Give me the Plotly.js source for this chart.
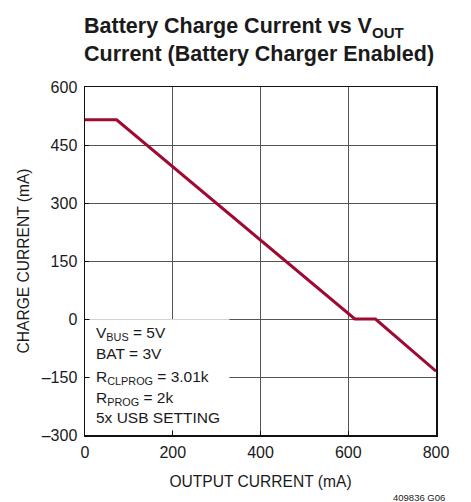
<!DOCTYPE html>
<html>
<head>
<meta charset="utf-8">
<script src="https://cdn.plot.ly/plotly-3.0.1.min.js"></script>
<style>html,body{margin:0;padding:0;background:#fff;}#chart{width:471px;height:502px;}</style>
</head>
<body>
<div id="chart"></div>
<script>
// Data
const outputCurrent = [0, 72, 615, 662, 800];      // mA
const chargeCurrent = [515, 515, 0, 0, -135];      // mA
const xTicks = [0, 200, 400, 600, 800];
const yTicks = [-300, -150, 0, 150, 300, 450, 600];
const noteLines = ["V<sub>BUS</sub> = 5V", "BAT = 3V", "R<sub>CLPROG</sub> = 3.01k", "R<sub>PROG</sub> = 2k", "5x USB SETTING"];

const FONT = "'Liberation Sans', Arial, Helvetica, sans-serif";
const TXT = "#1a1a1a";

const trace = {
  x: outputCurrent, y: chargeCurrent, type: "scatter", mode: "lines",
  line: {color: "#9e0b32", width: 3}, hoverinfo: "skip", showlegend: false
};

const axisCommon = {
  showline: true, linecolor: "#111", linewidth: 1.5, mirror: true,
  showgrid: true, gridcolor: "#555", gridwidth: 1, zeroline: false,
  ticks: "inside", ticklen: 4, tickcolor: "#111", tickwidth: 1,
  tickfont: {family: FONT, size: 16, color: TXT}, fixedrange: true
};

// vertical offsets (px below the zero line) of each note line's centre
const noteOffsets = [12.5, 34.5, 56.5, 77, 98.5];
const noteAnnotations = noteLines.map((t, i) => ({
  text: t, xref: "x", yref: "y", x: 0, y: 0,
  xanchor: "left", yanchor: "middle", align: "left", showarrow: false,
  xshift: 9, yshift: -noteOffsets[i] - (t.indexOf("<sub>") >= 0 ? 2 : 0),
  font: {family: FONT, size: 15.5, color: TXT}
}));

const layout = {
  width: 471, height: 502,
  margin: {l: 85, r: 35, t: 87, b: 67},
  paper_bgcolor: "#fff", plot_bgcolor: "#fff",
  title: {
    text: "<b>Battery Charge Current vs V<sub>OUT</sub><br>Current (Battery Charger Enabled)</b>",
    font: {family: FONT, size: 21.5, color: TXT},
    xref: "container", x: 84/471, xanchor: "left",
    yref: "container", y: 1 - 33/502, yanchor: "top"
  },
  xaxis: Object.assign({}, axisCommon, {
    range: [0, 800], tickvals: xTicks, ticktext: xTicks.map(String),
    ticklabelstandoff: 2,
    title: {text: "OUTPUT CURRENT (mA)", font: {family: FONT, size: 15.6, color: TXT}, standoff: 16}
  }),
  yaxis: Object.assign({}, axisCommon, {
    range: [-300, 600], tickvals: yTicks,
    ticktext: yTicks.map(v => v < 0 ? "\u2013" + Math.abs(v) : String(v)),
    ticklabelstandoff: 3,
    title: {text: "CHARGE CURRENT (mA)", font: {family: FONT, size: 15.6, color: TXT}, standoff: 8}
  }),
  // white panel behind the conditions note; leaves short grid stubs at the axes like tick marks
  shapes: [{
    type: "rect", xref: "x", yref: "y", x0: 11, x1: 329, y0: -287, y1: -0.6,
    fillcolor: "#fff", line: {width: 0}, layer: "above"
  }],
  annotations: noteAnnotations.concat([
    {
      text: "409836 G06", xref: "paper", yref: "paper", x: 1.03, y: 0,
      xanchor: "right", yanchor: "top", yshift: -55, showarrow: false,
      font: {family: FONT, size: 9.5, color: TXT}
    }
  ])
};

Plotly.newPlot("chart", [trace], layout, {displayModeBar: false, staticPlot: true});
</script>
</body>
</html>
